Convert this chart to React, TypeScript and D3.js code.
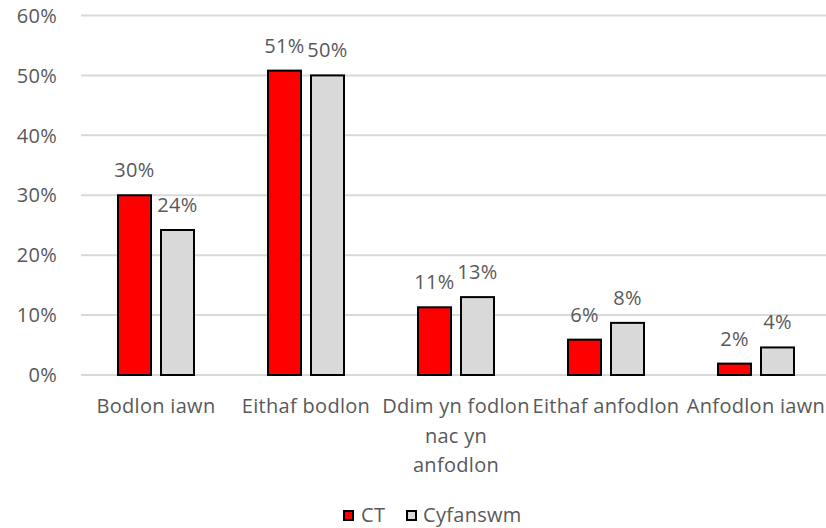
import React from "react";
import * as d3 from "d3";

const categories = [
  "Bodlon iawn",
  "Eithaf bodlon",
  "Ddim yn fodlon\nnac yn\nanfodlon",
  "Eithaf anfodlon",
  "Anfodlon iawn",
];
const seriesNames = ["CT", "Cyfanswm"];
const ctValues = [30, 50.8, 11.3, 5.9, 1.9];
const cyfValues = [24.2, 50, 13, 8.7, 4.6];
const ctLabels = ["30%", "51%", "11%", "6%", "2%"];
const cyfLabels = ["24%", "50%", "13%", "8%", "4%"];
const yTicks = [0, 10, 20, 30, 40, 50, 60];

const W = 826;
const H = 528;
const FONT = "'Open Sans', sans-serif";
const TXT = "#595959";
const colors = ["#FF0000", "#D9D9D9"];

export default function App() {
  const x = d3.scaleBand<string>().domain(categories).range([81, 831]);
  const y = d3.scaleLinear().domain([0, 60]).range([375, 15.5]);
  const barW = 33;
  const gap = 10;
  const series = [
    { name: seriesNames[0], values: ctValues, labels: ctLabels, color: colors[0] },
    { name: seriesNames[1], values: cyfValues, labels: cyfLabels, color: colors[1] },
  ];
  const textStyle = { fontFamily: FONT, fontSize: 20, fill: TXT, letterSpacing: 0.3 } as any;

  return (
    <div style={{ position: "absolute", left: 0, top: 0 }}>
      <svg width={W} height={H} style={{ display: "block", background: "#fff" }}>
        {yTicks.map((t) => (
          <g key={t}>
            <line x1={81} x2={831} y1={y(t)} y2={y(t)} stroke="#D9D9D9" strokeWidth={2} />
            <text x={57} y={y(t)} dy="0.36em" textAnchor="end" {...textStyle}>
              {t}%
            </text>
          </g>
        ))}
        {categories.map((c, i) => {
          const cx = (x(c) as number) + x.bandwidth() / 2;
          return (
            <g key={c}>
              {series.map((s, si) => {
                const bx = si === 0 ? cx - gap / 2 - barW : cx + gap / 2;
                const top = y(s.values[i]);
                return (
                  <g key={s.name}>
                    <rect
                      x={bx}
                      y={top}
                      width={barW}
                      height={y(0) - top}
                      fill={s.color}
                      stroke="#000"
                      strokeWidth={2}
                    />
                    <text x={bx + barW / 2} y={top - 18} textAnchor="middle" {...textStyle}>
                      {s.labels[i]}
                    </text>
                  </g>
                );
              })}
              <text x={cx} y={413} textAnchor="middle" {...textStyle}>
                {c.split("\n").map((ln, li) => (
                  <tspan key={li} x={cx} dy={li === 0 ? 0 : 29.5}>
                    {ln}
                  </tspan>
                ))}
              </text>
            </g>
          );
        })}
        {series.map((s, si) => {
          const lx = si === 0 ? 344 : 407;
          const tx = si === 0 ? 361 : 423;
          return (
            <g key={s.name}>
              <rect x={lx} y={511} width={9} height={9} fill={s.color} stroke="#000" strokeWidth={2} />
              <text x={tx} y={515} dy="0.36em" {...textStyle}>
                {s.name}
              </text>
            </g>
          );
        })}
      </svg>
    </div>
  );
}
